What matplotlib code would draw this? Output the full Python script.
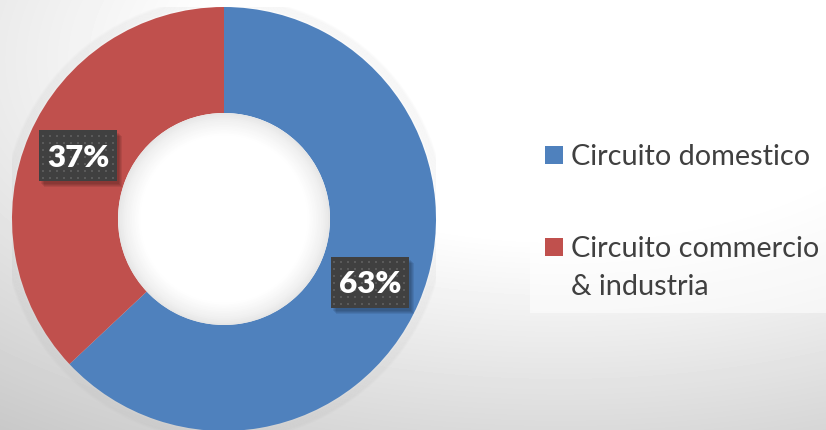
import numpy as np
import matplotlib.pyplot as plt
from matplotlib.patches import Rectangle, Circle

labels = ["Circuito domestico", "Circuito commercio\n& industria"]
values = [63, 37]
colors = ["#4f81bd", "#c0504d"]
pct_labels = ["63%", "37%"]

W, H = 826, 431
fig = plt.figure(figsize=(W / 100, H / 100), dpi=100)

# background: soft radial gradient, lightest upper right of the donut
bg = fig.add_axes([0, 0, 1, 1])
yy, xx = np.mgrid[0:H, 0:W]
d = np.sqrt(((xx - 560) / 600.0) ** 2 + ((yy - 60) / 300.0) ** 2)
shade = np.clip(1.133 - 0.224 * d, 0.0, 1.0)
bg.imshow(shade, cmap="gray", vmin=0, vmax=1, extent=[0, W, H, 0], aspect="auto")
bg.set_xlim(0, W)
bg.set_ylim(H, 0)
bg.axis("off")

# legend panel
bg.add_patch(Rectangle((530, 128), 300, 186, facecolor="white", alpha=0.55, lw=0))
font = "Lato"
tops = [146, 238]
for top, lab, col in zip(tops, labels, colors):
    bg.add_patch(Rectangle((545, top + 1), 18, 18, facecolor=col, lw=0))
    for i, line in enumerate(lab.split("\n")):
        bg.text(571, top + 19 + 38 * i, line, fontsize=20.8, family=font,
                color="#404040", va="baseline", ha="left")

# donut
cx, cy, r = 224, 220, 212
ax = fig.add_axes([(cx - r) / W, (H - cy - r) / H, 2 * r / W, 2 * r / H])

# soft glow around the ring
for k in range(8):
    ax.add_patch(Circle((0, 0), 1.0 + 0.005 * (k + 1), facecolor="none",
                        edgecolor="#808080", lw=2, alpha=0.025))
wedges, _ = ax.pie(values, colors=colors, startangle=90, counterclock=False,
                   radius=1.0, wedgeprops=dict(width=0.5, edgecolor="none"))
ax.set_xlim(-1, 1)
ax.set_ylim(-1, 1)
ax.axis("off")

# hole: white with a grey rim
steps = 14
for k in range(steps):
    g = 0.90 + 0.10 * (k / (steps - 1)) ** 0.7
    ax.add_patch(Circle((0, 0), 0.5 - 0.008 * k, facecolor=(g, g, g), lw=0))

# data labels: dark dotted boxes with a soft shadow
bw, bh = 78 / r, 51 / r
px = 1.0 / r
for w, txt in zip(wedges, pct_labels):
    ang = np.deg2rad((w.theta1 + w.theta2) / 2)
    x, y = 0.75 * np.cos(ang), 0.75 * np.sin(ang)
    for s in range(4):
        ax.add_patch(Rectangle((x - bw / 2 + (2 + s) * px, y - bh / 2 - (3 + s) * px),
                               bw, bh, facecolor="black", alpha=0.08, lw=0))
    ax.add_patch(Rectangle((x - bw / 2, y - bh / 2), bw, bh,
                           facecolor="#404040", lw=0))
    gx = x - bw / 2 + px * np.arange(3.5, 78, 7)
    gy = y - bh / 2 + px * np.arange(3.5, 51, 7)
    GX, GY = np.meshgrid(gx, gy)
    ax.scatter(GX.ravel(), GY.ravel(), s=2.2, marker="s", color="#5a5a5a",
               linewidths=0)
    ax.text(x, y - 0.005, txt, ha="center", va="center", color="white",
            fontsize=22.5, fontweight="heavy", family=font)

fig.savefig("out.png", dpi=100)
